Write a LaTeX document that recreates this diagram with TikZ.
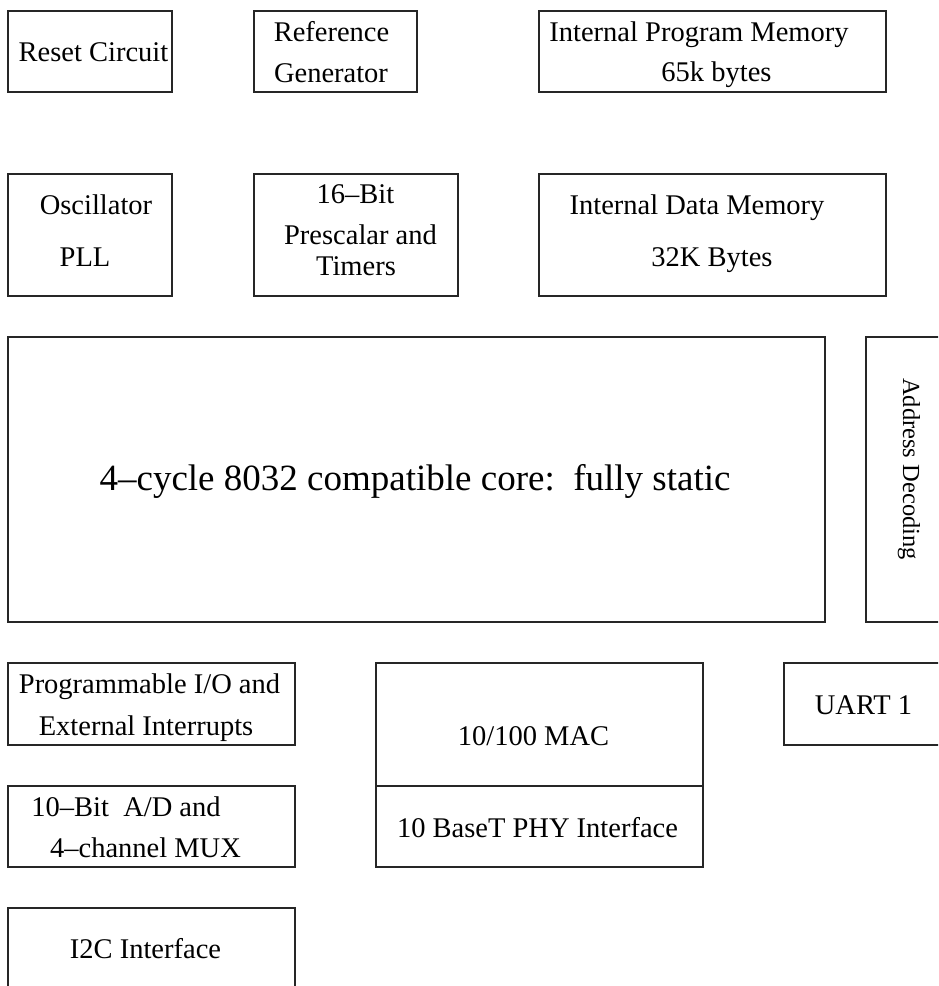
\documentclass[tikz,border=0pt]{standalone}
\usepackage{fontspec}
\setmainfont{Liberation Serif}

\begin{document}
\begin{tikzpicture}[x=1pt, y=-1pt,
    blk/.style={draw=black!85, line width=1.1pt},
    lbl/.style={anchor=base, inner sep=0pt, font=\fontsize{28.5}{30}\selectfont}]
    % only show the relevant part
    \useasboundingbox (0,0) rectangle (938,986);
    \clip (0,0) rectangle (938,986);

    % first row
    \draw [blk] (8,11) rectangle (172,92);
    \draw [blk] (254,11) rectangle (417,92);
    \draw [blk] (539,11) rectangle (886,92);
    \node [lbl] (reset) at (93.5,61) {Reset Circuit};
    \node [lbl] (refa) at (331.5,41) {Reference};
    \node [lbl] (refb) at (331,82) {Generator};
    \node [lbl] (proga) at (699,41) {Internal Program Memory};
    \node [lbl] (progb) at (716.5,81) {65k bytes};

    % second row
    \draw [blk] (8,174) rectangle (172,296);
    \draw [blk] (254,174) rectangle (458,296);
    \draw [blk] (539,174) rectangle (886,296);
    \node [lbl] (osca) at (96,214) {Oscillator};
    \node [lbl] (oscb) at (85,266) {PLL};
    \node [lbl] (tima) at (355.5,203) {16--Bit};
    \node [lbl] (timb) at (360.5,244) {Prescalar and};
    \node [lbl] (timc) at (356,275) {Timers};
    \node [lbl] (dataa) at (697,214) {Internal Data Memory};
    \node [lbl] (datab) at (712,266) {32K Bytes};

    % core and address decoding
    \draw [blk] (8,337) rectangle (825,622);
    \draw [blk] (866,337) rectangle (945,622);
    \node [lbl, font=\fontsize{37}{39}\selectfont] (core) at (415,490)
        {4--cycle 8032 compatible core:\ \ fully static};
    \node [lbl, rotate=-90, font=\fontsize{24.5}{26}\selectfont] (addr) at (903,469)
        {Address Decoding};

    % peripherals
    \draw [blk] (8,663) rectangle (295,745);
    \draw [blk] (8,786) rectangle (295,867);
    \draw [blk] (8,908) rectangle (295,995);
    \draw [blk] (376,663) rectangle (703,867);
    \draw [blk] (376,786) -- (703,786);
    \draw [blk] (784,663) rectangle (945,745);
    \node [lbl] (pioa) at (149.5,693) {Programmable I/O and};
    \node [lbl] (piob) at (146,735) {External Interrupts};
    \node [lbl] (adca) at (126,816) {10--Bit\ \ A/D and};
    \node [lbl] (adcb) at (145.5,857) {4--channel MUX};
    \node [lbl] (iic) at (145.5,958) {I2C Interface};
    \node [lbl] (mac) at (533.5,745) {10/100 MAC};
    \node [lbl] (phy) at (537.5,837) {10 BaseT PHY Interface};
    \node [lbl] (uart) at (863.5,714) {UART 1};
\end{tikzpicture}
\end{document}
